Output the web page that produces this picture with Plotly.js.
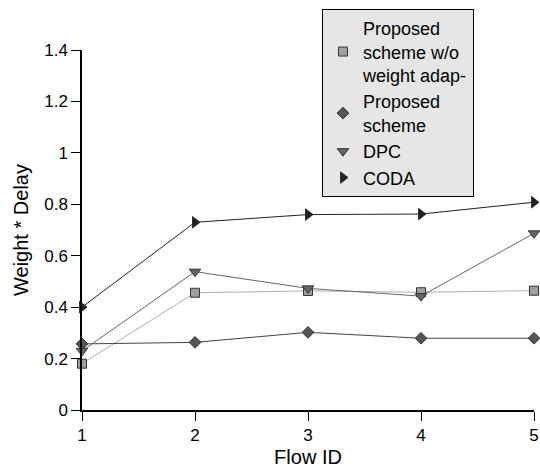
<!DOCTYPE html>
<html><head><meta charset="utf-8">
<script src="https://cdn.plot.ly/plotly-3.0.1.min.js"></script>
<style>body{margin:0;background:#fff}#c{width:540px;height:470px}</style>
</head><body><div id="c"></div>
<script>
const flowIds = [1, 2, 3, 4, 5];
const seriesNames = ["Proposed<br>scheme w/o<br>weight adap-", "Proposed<br>scheme", "DPC", "CODA"];
const woAdapt = [0.18, 0.456, 0.463, 0.458, 0.464];
const proposed = [0.257, 0.263, 0.302, 0.279, 0.279];
const dpc = [0.23, 0.538, 0.473, 0.443, 0.687];
const coda = [0.40, 0.73, 0.76, 0.762, 0.808];
const yTicks = [0, 0.2, 0.4, 0.6, 0.8, 1, 1.2, 1.4];
const yTickText = ["0", "0.2", "0.4", "0.6", "0.8", "1", "1.2", "1.4"];

const styles = [
  {line: '#b0b0b0', sym: 'square', fill: '#a0a0a0', size: 9},
  {line: '#444', sym: 'diamond', fill: '#555', size: 9},
  {line: '#666', sym: 'triangle-down', fill: '#666', size: 10},
  {line: '#222', sym: 'triangle-right', fill: '#222', size: 10}
];
const ys = [woAdapt, proposed, dpc, coda];
const data = [];
ys.forEach((y, i) => {
  const s = styles[i];
  data.push({x: flowIds, y: y, name: seriesNames[i], type: 'scatter', mode: 'lines+markers', cliponaxis: false,
    showlegend: false, line: {color: s.line, width: 1},
    marker: {symbol: s.sym, color: s.fill, size: s.size, line: {color: '#333', width: 1}}});
});
ys.forEach((y, i) => {
  const s = styles[i];
  data.push({x: [null], y: [null], name: seriesNames[i], type: 'scatter', mode: 'markers', showlegend: true,
    marker: {symbol: s.sym, color: s.fill, size: s.size, line: {color: '#333', width: 1}}});
});
const layout = {
  width: 540, height: 470,
  margin: {l: 82, r: 6, t: 50, b: 60},
  paper_bgcolor: '#fff', plot_bgcolor: '#fff',
  font: {family: 'Liberation Sans, Arial, sans-serif', color: '#000', size: 17},
  showlegend: true,
  legend: {x: 0.531, y: 1.114, xanchor: 'left', yanchor: 'top', bgcolor: '#e6e6e6',
    bordercolor: '#000', borderwidth: 1, font: {size: 18}, itemwidth: 30, tracegroupgap: 0},
  xaxis: {range: [1, 5], tickvals: flowIds, ticks: 'outside', ticklen: 9, tickcolor: '#000',
    showline: true, linecolor: '#000', linewidth: 1.5, showgrid: false, zeroline: false,
    title: {text: 'Flow ID', font: {size: 20}, standoff: 6}},
  yaxis: {range: [0, 1.4], tickvals: yTicks, ticktext: yTickText, ticks: 'outside', ticklen: 9, tickcolor: '#000',
    showline: true, linecolor: '#000', linewidth: 1.5, showgrid: false, zeroline: false,
    title: {text: 'Weight * Delay', font: {size: 20}, standoff: 10}}
};
Plotly.newPlot('c', data, layout, {displayModeBar: false});
</script></body></html>
